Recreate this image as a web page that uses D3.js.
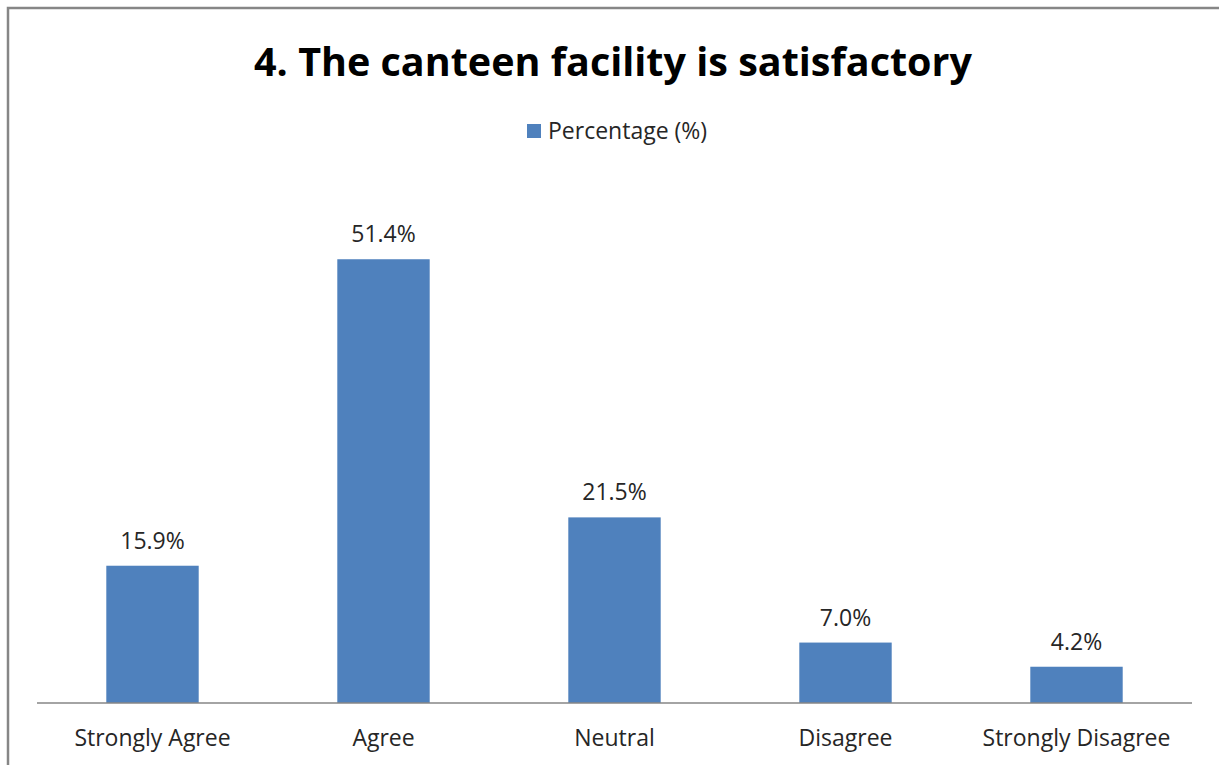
<!DOCTYPE html>
<html>
<head>
<meta charset="utf-8">
<script src="https://cdn.jsdelivr.net/npm/d3@7/dist/d3.min.js"></script>
<style>
  html, body { margin: 0; padding: 0; background: #fff; }
  svg { display: block; }
</style>
</head>
<body>
<svg id="chart" width="1219" height="765"></svg>
<script>
const title = "4. The canteen facility is satisfactory";
const seriesName = "Percentage (%)";
const categories = ["Strongly Agree", "Agree", "Neutral", "Disagree", "Strongly Disagree"];
const values = [15.9, 51.4, 21.5, 7.0, 4.2];
const valueLabels = ["15.9%", "51.4%", "21.5%", "7.0%", "4.2%"];
const yDomain = [0, 60];

const svg = d3.select("#chart");
const W = 1219, H = 765;
const font = "'Open Sans', 'Noto Sans', sans-serif";
const barColor = "#4F81BD";

// chart border (left + top visible)
svg.append("rect")
  .attr("x", 8).attr("y", 8)
  .attr("width", W + 20).attr("height", H + 20)
  .attr("fill", "#fff")
  .attr("stroke", "#868686")
  .attr("stroke-width", 2.5);

const plot = { left: 37, right: 1192, top: 185, bottom: 703 };

const x = d3.scaleBand()
  .domain(categories)
  .range([plot.left, plot.right])
  .paddingInner(0.6)
  .paddingOuter(0.3);

const y = d3.scaleLinear()
  .domain(yDomain)
  .range([plot.bottom, plot.top]);

// title
svg.append("text")
  .attr("x", 613).attr("y", 76)
  .attr("text-anchor", "middle")
  .attr("font-family", font)
  .attr("font-weight", "bold")
  .attr("font-size", 39.5)
  .attr("fill", "#000")
  .text(title);

// legend
const legend = svg.append("g").attr("transform", "translate(527,124)");
legend.append("rect")
  .attr("x", 0).attr("y", 0)
  .attr("width", 14).attr("height", 14)
  .attr("fill", barColor);
legend.append("text")
  .attr("x", 21).attr("y", 15)
  .attr("font-family", font)
  .attr("font-size", 23)
  .attr("fill", "#262626")
  .text(seriesName);

// bars
svg.append("g").selectAll("rect")
  .data(values)
  .join("rect")
  .attr("x", (d, i) => x(categories[i]))
  .attr("y", d => y(d))
  .attr("width", x.bandwidth())
  .attr("height", d => y(0) - y(d))
  .attr("fill", barColor);

// value labels
svg.append("g").selectAll("text")
  .data(values)
  .join("text")
  .attr("x", (d, i) => x(categories[i]) + x.bandwidth() / 2)
  .attr("y", d => y(d) - 17)
  .attr("text-anchor", "middle")
  .attr("font-family", font)
  .attr("font-size", 23)
  .attr("fill", "#262626")
  .text((d, i) => valueLabels[i]);

// x axis
const xAxis = d3.axisBottom(x).tickSize(0).tickPadding(0);
const gx = svg.append("g")
  .attr("transform", `translate(0,${plot.bottom})`)
  .call(xAxis);
gx.select(".domain").attr("stroke", "#868686").attr("stroke-width", 1.3)
  .attr("d", `M${plot.left},0H${plot.right}`);
gx.selectAll(".tick text")
  .attr("y", 43)
  .attr("dy", 0)
  .attr("font-family", font)
  .attr("font-size", 23)
  .attr("fill", "#262626");
</script>
</body>
</html>
